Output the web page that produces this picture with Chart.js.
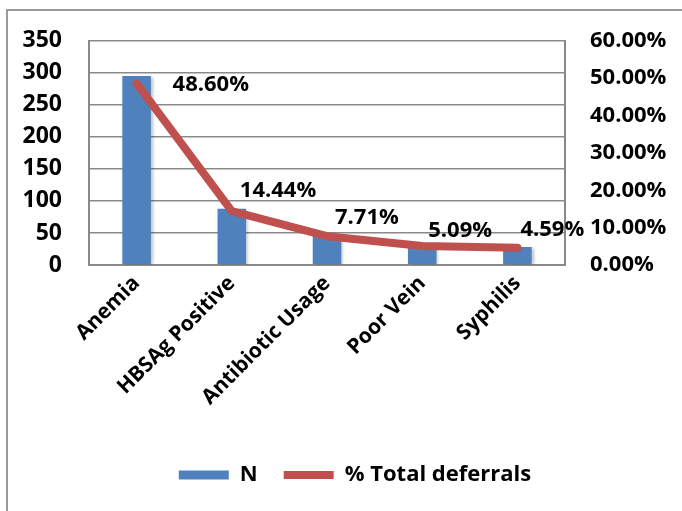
<!DOCTYPE html>
<html><head><meta charset="utf-8">
<script src="https://cdn.jsdelivr.net/npm/chart.js@4"></script>
<style>
html,body{margin:0;padding:0;background:#fff;}
#frame{position:absolute;left:6px;top:9px;width:700px;height:520px;border:2px solid #9a9a9a;}
#wrap{position:absolute;left:0;top:0;width:682px;height:511px;}
</style></head><body>
<div id="frame"></div>
<div id="wrap"><canvas id="c" width="682" height="511"></canvas></div>
<script>
const categories = ["Anemia", "HBSAg Positive", "Antibiotic Usage", "Poor Vein", "Syphilis"];
const countN = [295, 88, 47, 31, 28];
const pctDeferrals = [48.60, 14.44, 7.71, 5.09, 4.59];
const leftTicks = [0, 50, 100, 150, 200, 250, 300, 350];
const rightTicks = [0, 10, 20, 30, 40, 50, 60];

const FONT = "'Open Sans', 'DejaVu Sans', sans-serif";
const labelOffsets = [[36, 1], [8, -20], [8, -18], [6, -15], [3, -18]];

const labelPlugin = {
  id: 'lineLabels',
  afterDatasetsDraw(chart) {
    const meta = chart.getDatasetMeta(1);
    const ctx = chart.ctx;
    ctx.save();
    ctx.font = "bold 22px " + FONT;
    ctx.fillStyle = '#000';
    ctx.textAlign = 'left';
    ctx.textBaseline = 'middle';
    meta.data.forEach((pt, i) => {
      const o = labelOffsets[i];
      ctx.fillText(pctDeferrals[i].toFixed(2) + '%', pt.x + o[0], pt.y + o[1]);
    });
    ctx.restore();
  }
};
const shadowPlugin = {
  id: 'barShadow',
  beforeDatasetDraw(chart, args) {
    if (args.index === 0) {
      const ctx = chart.ctx;
      ctx.save();
      ctx.shadowColor = 'rgba(0,0,0,0.25)';
      ctx.shadowBlur = 3;
      ctx.shadowOffsetX = 2;
      ctx.shadowOffsetY = 1;
    }
  },
  afterDatasetDraw(chart, args) {
    if (args.index === 0) chart.ctx.restore();
  }
};
const legendShift = {
  id: 'legendShift',
  afterLayout(chart) {
    if (chart.legend) { chart.legend.left += 14; chart.legend.right += 14; }
  }
};

new Chart(document.getElementById('c'), {
  type: 'bar',
  data: {
    labels: categories,
    datasets: [
      {
        label: 'N',
        data: countN,
        backgroundColor: '#4F81BD',
        borderWidth: 0,
        barPercentage: 0.3,
        categoryPercentage: 1,
        yAxisID: 'y',
        pointStyle: 'rect',
        order: 2
      },
      {
        type: 'line',
        label: '% Total deferrals',
        data: pctDeferrals,
        borderColor: '#C0504D',
        backgroundColor: '#C0504D',
        borderWidth: 8,
        borderCapStyle: 'round',
        borderJoinStyle: 'round',
        pointRadius: 0,
        pointHoverRadius: 0,
        pointStyle: 'line',
        tension: 0,
        yAxisID: 'y1',
        order: 1
      }
    ]
  },
  options: {
    responsive: false,
    animation: false,
    events: [],
    layout: { padding: { top: 34, left: 0, right: 0, bottom: 15 } },
    plugins: {
      tooltip: { enabled: false },
      legend: {
        position: 'bottom',
        labels: {
          usePointStyle: true,
          pointStyleWidth: 50,
          boxHeight: 9,
          padding: 26,
          color: '#000',
          sort: (a, b) => a.datasetIndex - b.datasetIndex,
          font: { family: FONT, size: 22, weight: 'bold' }
        }
      }
    },
    scales: {
      x: {
        grid: { display: false, drawTicks: false },
        border: { display: true, color: '#8a8a8a', width: 2 },
        ticks: {
          color: '#000',
          font: { family: FONT, size: 21, weight: 'bold' },
          maxRotation: 45, minRotation: 45, padding: 6
        },
        afterFit(s) { s.height = 173; }
      },
      y: {
        position: 'left',
        min: 0, max: 350,
        afterBuildTicks(s) { s.ticks = leftTicks.map(v => ({ value: v })); },
        grid: { color: '#8a8a8a', lineWidth: 1.5, drawTicks: false },
        border: { display: true, color: '#8a8a8a', width: 2 },
        ticks: {
          color: '#000', padding: 27,
          font: { family: FONT, size: 23, weight: 'bold' }
        },
        afterFit(s) { s.width = 89; }
      },
      y1: {
        position: 'right',
        min: 0, max: 60,
        afterBuildTicks(s) { s.ticks = rightTicks.map(v => ({ value: v })); },
        grid: { display: false, drawTicks: false },
        border: { display: true, color: '#8a8a8a', width: 2 },
        ticks: {
          color: '#000', padding: 25,
          font: { family: FONT, size: 22, weight: 'bold' },
          callback: v => Number(v).toFixed(2) + '%'
        },
        afterFit(s) { s.width = 117; }
      }
    }
  },
  plugins: [labelPlugin, shadowPlugin, legendShift]
});
</script>
</body></html>
